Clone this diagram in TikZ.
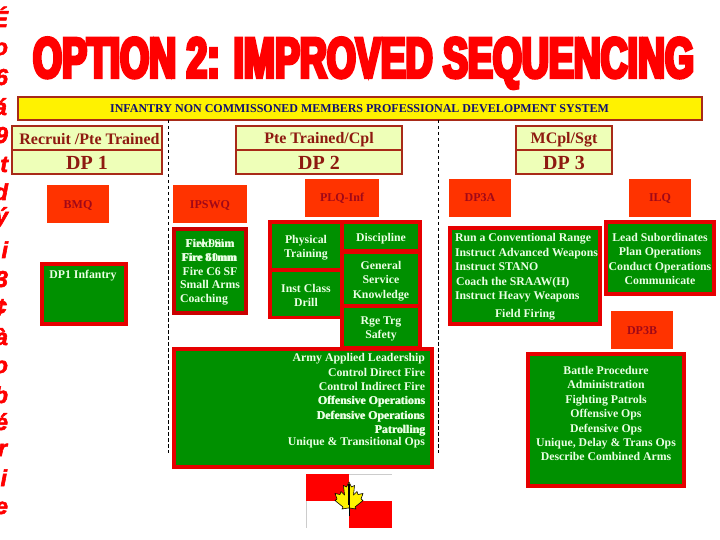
\documentclass[tikz,border=0pt]{standalone}
\usepackage{fontspec}
\setmainfont{Liberation Serif}
\newfontfamily\titlefont[FakeStretch=0.655,FakeBold=6]{Liberation Sans Bold}
\newfontfamily\sidefont[FakeBold=2.5]{Liberation Sans Bold Italic}
\definecolor{titlered}{HTML}{FF0000}
\definecolor{brd}{HTML}{A82A18}
\definecolor{palegreen}{HTML}{EEFFB8}
\definecolor{orangebox}{HTML}{FF3300}
\definecolor{orangetxt}{HTML}{A00818}
\definecolor{boxgreen}{HTML}{009000}
\definecolor{boxred}{HTML}{E60000}
\definecolor{softw}{HTML}{EAFFE4}
\definecolor{navy}{HTML}{101070}
\definecolor{rankred}{HTML}{8E1A10}
\tikzset{
  x=1pt,y=-1pt,
  every node/.style={inner sep=0pt,outer sep=0pt},
  sideletter/.style={font=\fontsize{23}{23}\sidefont,text=titlered,anchor=base east},
  rankbox/.style={draw=brd,line width=1.5pt,fill=palegreen},
  ranktext/.style={font=\fontsize{20}{20}\bfseries\selectfont,text=rankred,text height=13pt,text depth=0pt,yshift=-1pt},
  ranksmall/.style={font=\fontsize{16}{16}\bfseries\selectfont,text=rankred,text height=11pt,text depth=3pt,yshift=-1pt},
  orangelbl/.style={font=\fontsize{12}{12}\bfseries\selectfont,text=orangetxt,text height=8pt,text depth=0pt},
  outerred/.style={fill=boxred},
  innergreen/.style={fill=boxgreen},
  greenbase/.style={font=\fontsize{11.8}{13}\bfseries\selectfont,text=softw,yshift=-1.6pt},
  greentext/.style={greenbase,text height=8pt,text depth=2.5pt},
  divline/.style={line width=0.8pt,dash pattern=on 3.5pt off 2.5pt,black},
}
\begin{document}
\begin{tikzpicture}
\useasboundingbox (0,0) rectangle (720,540);
\fill[white] (0,0) rectangle (720,540);
% side letters
\foreach \n/\ch/\yy/\xx in {a/É/27/8,b/o/55/8,c/6/85/8,d/á/115/7,e/9/143/8,f/t/172/8,g/d/200/8,h/ý/224/8,i/i/258/8,j/3/287/8,k/¢/315/7,l/à/345/8,m/o/373/8,n/b/403/8,o/é/430/8,p/r/456/7,q/i/486/7,r/e/514/8}
  \node[sideletter] (side\n) at (\xx,\yy) {\ch};
% title
\node[font=\fontsize{57}{57}\selectfont\titlefont,text=titlered,anchor=base] (title) at (363.5,77.5) {OPTION 2: IMPROVED SEQUENCING};
% banner
\path[draw=brd,line width=2pt,fill=yellow] (18,97) rectangle (702,120);
\node[font=\fontsize{12}{12}\bfseries\selectfont,text=navy] (banner) at (359.5,109) {INFANTRY NON COMMISSONED MEMBERS PROFESSIONAL DEVELOPMENT SYSTEM};
% dashed
\coordinate (d1a) at (168.5,120); \coordinate (d1b) at (168.5,453);
\coordinate (d2a) at (438.5,120); \coordinate (d2b) at (438.5,453);
\draw[divline] (d1a) -- (d1b);
\draw[divline] (d2a) -- (d2b);
% rank boxes
\foreach \l/\r in {12/162,236/402,516/612}{
  \path[rankbox] (\l,126) rectangle (\r,174);
  \draw[brd,line width=1.5pt] (\l,150) -- (\r,150);
}
\node[ranksmall] (r1a) at (89.5,139.5) {Recruit /Pte Trained};
\node[ranktext] (r1b) at (87,162.5) {DP 1};
\node[ranksmall] (r2a) at (319,138.5) {Pte Trained/Cpl};
\node[ranktext] (r2b) at (319,162.5) {DP 2};
\node[ranksmall] (r3a) at (564,138.5) {MCpl/Sgt};
\node[ranktext] (r3b) at (564,162.5) {DP 3};
% orange boxes
\foreach \l/\t/\r/\b/\nm/\lbl in {47/185/109/223/o1/BMQ,173/185/247/223/o2/IPSWQ,305/179/379/217/o3/PLQ-Inf,449/179/511/217/o4/DP3A,629/179/691/217/o5/ILQ,611/311/673/349/o6/DP3B}{
  \fill[orangebox] (\l,\t) rectangle (\r,\b);
  \node[orangelbl] (\nm) at ({(\l+\r)/2},{(\t+\b)/2}) {\lbl};
}
% red frames
\fill[outerred] (40,262) rectangle (128,326);
\fill[boxred!88!black] (172,227) rectangle (248,315);
\fill[outerred] (268,220) rectangle (422,319);
\fill[outerred] (340,220) rectangle (422,350);
\fill[outerred] (172,347) rectangle (434,469);
\fill[outerred] (448,226) rectangle (602,326);
\fill[outerred] (604,220) rectangle (716,296);
\fill[outerred] (526,352) rectangle (686,488);
% green fills
\foreach \l/\t/\r/\b in {44/266/124/322,176/231/244/311,272/224/340/268,272/272/340/316,344/224/418/249,344/254/418/304,344/308/418/346,176/351/430/465,452/230/598/322,608/224/712/292,530/356/682/484}
  \fill[innergreen] (\l,\t) rectangle (\r,\b);
% DP1
\node[greentext] (t1) at (83,274) {DP1 Infantry};
% IPSWQ
\node[greentext] (t2a) at (210,243.5) {Fire 9mm};
\node[greentext] (t2a2) at (210,243.5) {Field Sim};
\node[greentext] (t2b) at (210,257.5) {Fire 60mm};
\node[greentext] (t2b2) at (209,257.5) {Fire 81mm};
\node[greentext] (t2c) at (210,271) {Fire C6 SF};
\node[greentext] (t2d) at (210,284.5) {Small Arms};
\node[greentext] (t2e) at (204,298) {Coaching};
% PLQ cells
\node[greenbase,align=center] (t3a) at (306,246) {Physical\\[1.5pt]Training};
\node[greenbase,align=center] (t3b) at (306,294) {Inst Class\\[1.5pt]Drill};
\node[greentext] (t3c) at (381,237) {Discipline};
\node[greenbase,align=center] (t3d) at (381,279.5) {General\\[1.5pt]Service\\[1.5pt]Knowledge};
\node[greenbase,align=center] (t3e) at (381,327.5) {Rge Trg\\[1.5pt]Safety};
% big box lines
\foreach \n/\yy/\txt in {a/357.5/Army Applied Leadership,b/372/Control Direct Fire,c/386.5/Control Indirect Fire,d/400.5/Offensive Operations,e/415/Defensive Operations,f/429/Patrolling,g/441/Unique \& Transitional Ops}
  \node[greentext,anchor=east] (t4\n) at (425,\yy) {\txt};
\node[greentext,anchor=east] (t4d2) at (425.5,400.5) {Offensive Operations};
\node[greentext,anchor=east] (t4e2) at (424.5,415) {Defensive Operations};
\node[greentext,anchor=east] (t4f2) at (425.5,429) {Patrolling};
% DP3A
\foreach \n/\xx/\yy/\txt in {a/455/237/Run a Conventional Range,b/455/252/Instruct Advanced Weapons,c/455/266/Instruct STANO,d/456/281/Coach the SRAAW(H),e/455/295/Instruct Heavy Weapons}
  \node[greentext,anchor=west] (t5\n) at (\xx,\yy) {\txt};
\node[greentext] (t5f) at (525,313) {Field Firing};
% ILQ
\foreach \n/\yy/\txt in {a/237/Lead Subordinates,b/251/Plan Operations,c/266/Conduct Operations,d/280/Communicate}
  \node[greentext] (t6\n) at (660,\yy) {\txt};
% DP3B
\foreach \n/\yy/\txt in {a/370/Battle Procedure,b/384/Administration,c/399/Fighting Patrols,d/413/Offensive Ops,e/428/Defensive Ops,f/442/{Unique, Delay \& Trans Ops},g/456/Describe Combined Arms}
  \node[greentext] (t7\n) at (606,\yy) {\txt};
% flag
\fill[red] (306,474) rectangle (349,501);
\fill[red] (349,501) rectangle (392,528);
\draw[black!20,line width=0.5pt] (349,474) -- (392,474);
\draw[black!20,line width=0.5pt] (306,501) -- (306,528);
\fill[yellow,draw=black,line width=0.6pt,line join=round]
  (349,482) -- (351.5,487) -- (354.5,485.5) -- (353.5,495) -- (357,491.5) -- (358,494.5) -- (363,493.5) -- (361,499) -- (363,500.5)
  -- (355,507) -- (356,509) -- (349.8,508) -- (348.2,508) -- (342,509) -- (343,507) -- (335,500.5) -- (337,499) -- (335,493.5)
  -- (340,494.5) -- (341,491.5) -- (344.5,495) -- (343.5,485.5) -- (346.5,487) -- cycle;
\draw[black,line width=2pt] (349,484) -- (349,505);
\draw[black,line width=0.8pt] (349,505) -- (349,516);
\end{tikzpicture}
\end{document}
